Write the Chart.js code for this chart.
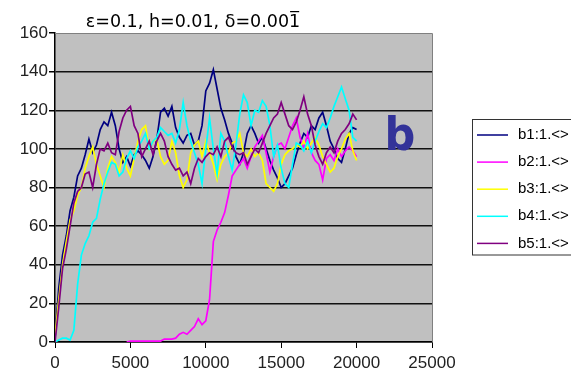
<!DOCTYPE html>
<html>
<head>
<meta charset="utf-8">
<script src="https://cdn.jsdelivr.net/npm/chart.js@4.4.0/dist/chart.umd.min.js"></script>
<style>
  html, body { margin: 0; padding: 0; background: #fff; }
</style>
</head>
<body>
<canvas id="myChart" width="571" height="376"></canvas>
<script>
// x positions (steps) shared by every series
const steps = [0,250,500,750,1000,1250,1500,1750,2000,2250,
  2500,2750,3000,3250,3500,3750,4000,4250,4500,4750,
  5000,5250,5500,5750,6000,6250,6500,6750,7000,7250,
  7500,7750,8000,8250,8500,8750,9000,9250,9500,9750,
  10000,10250,10500,10750,11000,11250,11500,11750,12000,12250,
  12500,12750,13000,13250,13500,13750,14000,14250,14500,14750,
  15000,15250,15500,15750,16000,16250,16500,16750,17000,17250,
  17500,17750,18000,18250,18500,18750,19000,19250,19500,19750,
  20000];

const b1 = [2,28,45,55,68,75,86,90,97,105,
  98,102,110,114,112,119,112,100,93,96,
  91,97,99,97,94,90,96,105,119,121,
  117,122,111,106,103,107,108,102,104,112,
  130,134,141,131,121,115,108,103,96,92,
  98,108,112,108,103,106,100,94,89,85,
  80,82,86,90,97,103,108,106,112,110,
  116,119,112,104,100,95,93,100,108,111,
  110];

const b2 = [null,null,null,null,null,null,null,null,null,null,
  null,null,null,null,null,null,null,null,null,0,
  0.5,0.5,0.5,0.5,0.5,0.5,0.5,0.5,0.5,1.5,
  1.5,1.5,2,4,5,4,6,8,12,9,
  11,22,52,58,62,67,76,86,89,92,
  95,90,96,101,104,107,98,88,96,102,
  103,100,106,112,116,106,100,108,98,94,
  92,84,95,97,94,100,96,99,101,99,
  96];

const b3 = [3,22,40,52,63,68,76,80,90,96,
  101,92,86,80,90,96,93,88,97,90,
  86,95,104,110,112,100,104,105,96,92,
  94,104,98,86,80,84,98,102,104,96,
  104,98,92,84,92,96,98,103,104,108,
  98,96,100,96,98,94,82,80,78,82,
  92,97,99,100,102,101,104,100,103,106,
  102,96,92,88,90,96,100,105,108,99,
  94];

const b4 = [0,1,2,2,1,6,30,45,51,55,
  62,64,74,82,88,93,92,86,88,95,
  99,95,101,104,108,100,104,106,111,109,
  107,108,103,110,124,112,104,98,92,82,
  100,116,100,87,108,104,96,89,102,118,
  128,124,112,120,119,125,122,112,96,102,
  90,82,80,92,103,102,99,104,98,104,
  109,113,111,116,122,127,132,126,120,106,
  104];

const b5 = [0,18,38,48,60,72,78,80,87,88,
  80,92,100,99,103,98,97,109,116,120,
  122,112,108,96,100,104,97,104,108,104,
  96,92,89,90,86,88,82,90,95,93,
  96,98,97,101,96,104,106,101,98,97,
  98,92,96,100,98,103,108,112,116,118,
  124,118,112,110,114,120,127,118,112,102,
  96,92,98,101,98,104,108,110,113,118,
  115];

const seriesNames = ['b1:1.<>', 'b2:1.<>', 'b3:1.<>', 'b4:1.<>', 'b5:1.<>'];
const seriesColors = ['#000080', '#ff00ff', '#ffff00', '#00ffff', '#800080'];
const allSeries = [b1, b2, b3, b4, b5];

const titleText = 'ε=0.1, h=0.01, δ=0.001\u0305';
const panelLetter = 'b';

// gray plot area + gray top/right frame
const plotArea = {
  id: 'plotArea',
  beforeDraw(chart) {
    const { ctx, chartArea: a } = chart;
    ctx.save();
    ctx.fillStyle = '#c0c0c0';
    ctx.fillRect(a.left, a.top, a.right - a.left, a.bottom - a.top);
    ctx.restore();
  },
  afterDatasetsDraw(chart) {
    const { ctx, chartArea: a } = chart;
    ctx.save();
    ctx.strokeStyle = '#808080';
    ctx.lineWidth = 1;
    ctx.beginPath();
    ctx.moveTo(a.left, a.top + 0.5);
    ctx.lineTo(a.right + 0.5, a.top + 0.5);
    ctx.lineTo(a.right + 0.5, a.bottom);
    ctx.stroke();
    ctx.restore();
  }
};

// title, the big letter and the clipped legend box
const extras = {
  id: 'extras',
  afterDraw(chart) {
    const ctx = chart.ctx;
    ctx.save();
    ctx.fillStyle = '#000';
    ctx.font = '17.5px "DejaVu Sans"';
    ctx.textAlign = 'center';
    ctx.textBaseline = 'alphabetic';
    ctx.fillText(titleText, 193, 27);

    // letter b
    ctx.font = 'bold 48px "DejaVu Sans"';
    ctx.textAlign = 'left';
    const m = ctx.measureText(panelLetter);
    const w = m.actualBoundingBoxRight + m.actualBoundingBoxLeft;
    const h = m.actualBoundingBoxAscent + m.actualBoundingBoxDescent;
    ctx.save();
    ctx.translate(388, 150);
    ctx.scale(26 / w, 37 / h);
    ctx.fillStyle = '#333399';
    ctx.fillText(panelLetter, m.actualBoundingBoxLeft, 0);
    ctx.restore();

    // legend
    ctx.fillStyle = '#fff';
    ctx.fillRect(472, 119.5, 120, 135.5);
    ctx.strokeStyle = '#333';
    ctx.lineWidth = 1;
    ctx.strokeRect(472.5, 119.5, 120, 135.5);
    ctx.font = '15px "Liberation Sans"';
    ctx.textBaseline = 'middle';
    chart.data.datasets.forEach((ds, i) => {
      const y = 135 + i * 27.1;
      ctx.strokeStyle = ds.borderColor;
      ctx.lineWidth = 1.5;
      ctx.beginPath();
      ctx.moveTo(477, y);
      ctx.lineTo(508, y);
      ctx.stroke();
      ctx.fillStyle = '#000';
      ctx.fillText(ds.label, 518, y);
    });
    ctx.restore();
  }
};

const ctx = document.getElementById('myChart');
new Chart(ctx, {
  type: 'line',
  data: {
    datasets: allSeries.map((vals, i) => ({
      label: seriesNames[i],
      data: steps.map((x, j) => ({ x: x, y: vals[j] })),
      borderColor: seriesColors[i],
      borderWidth: 1.7,
      pointRadius: 0,
      tension: 0,
      order: 5 - i
    }))
  },
  options: {
    responsive: false,
    devicePixelRatio: 1,
    animation: false,
    layout: { padding: { top: 33, right: 139, bottom: 0, left: 0 } },
    plugins: { legend: { display: false }, tooltip: { enabled: false } },
    scales: {
      x: {
        type: 'linear',
        min: 0,
        max: 25000,
        ticks: {
          stepSize: 5000,
          maxRotation: 0,
          padding: 5,
          color: '#222',
          font: { family: 'Liberation Sans', size: 17 },
          callback: v => String(v)
        },
        grid: { drawOnChartArea: false, tickLength: 6, tickColor: '#000' },
        border: { color: '#000', width: 1.5 },
        afterFit(s) { s.height = 34; }
      },
      y: {
        min: 0,
        max: 160,
        ticks: {
          stepSize: 20,
          padding: 1,
          color: '#222',
          font: { family: 'Liberation Sans', size: 17 }
        },
        grid: {
          color: c => (c.tick && c.tick.value === 160) ? 'rgba(0,0,0,0)' : '#111',
          lineWidth: 1.5,
          tickLength: 6,
          tickColor: '#000'
        },
        border: { color: '#000', width: 1.5 },
        afterFit(s) { s.width = 55; }
      }
    }
  },
  plugins: [plotArea, extras]
});
</script>
</body>
</html>
